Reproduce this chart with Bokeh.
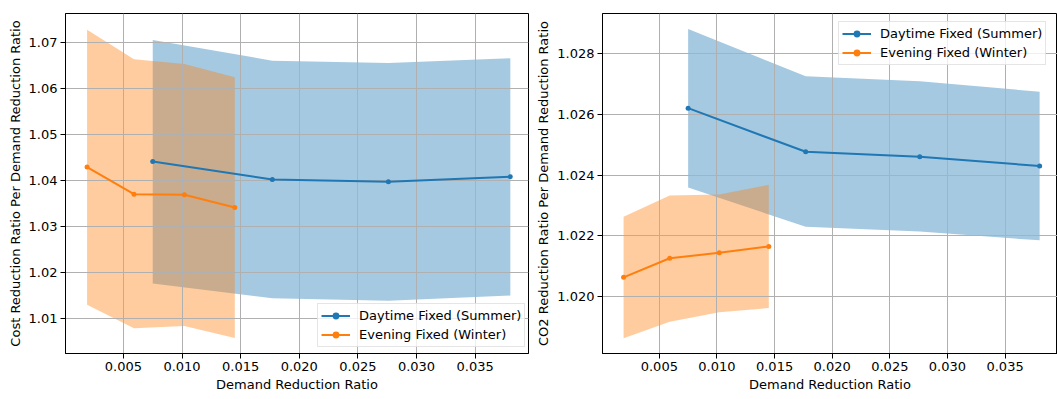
from bokeh.plotting import figure
from bokeh.layouts import row
from bokeh.models import Range1d, FixedTicker, PrintfTickFormatter, Legend, LegendItem
from bokeh.embed import file_html
from bokeh.resources import INLINE

# ---- data ----
series_names = ["Daytime Fixed (Summer)", "Evening Fixed (Winter)"]
day_x = [0.0075, 0.0177, 0.0276, 0.0380]
eve_x = [0.0019, 0.0059, 0.0102, 0.0145]

cost_day_mean = [1.0441, 1.0402, 1.0397, 1.0408]
cost_day_upper = [1.0705, 1.0660, 1.0655, 1.0665]
cost_day_lower = [1.0176, 1.0144, 1.0139, 1.0150]
cost_eve_mean = [1.0429, 1.0370, 1.0369, 1.0341]
cost_eve_upper = [1.0727, 1.0663, 1.0653, 1.0624]
cost_eve_lower = [1.0130, 1.0079, 1.0084, 1.0058]

co2_day_mean = [1.02621, 1.02477, 1.02461, 1.02430]
co2_day_upper = [1.02882, 1.02726, 1.02710, 1.02675]
co2_day_lower = [1.02359, 1.02230, 1.02214, 1.02185]
co2_eve_mean = [1.02063, 1.02126, 1.02144, 1.02165]
co2_eve_upper = [1.02263, 1.02333, 1.02336, 1.02368]
co2_eve_lower = [1.01862, 1.01917, 1.01948, 1.01962]

x_ticks = [0.005, 0.010, 0.015, 0.020, 0.025, 0.030, 0.035]
cost_y_ticks = [1.01, 1.02, 1.03, 1.04, 1.05, 1.06, 1.07]
co2_y_ticks = [1.020, 1.022, 1.024, 1.026, 1.028]

BLUE = "#1f77b4"
ORANGE = "#ff7f0e"
FONT = "DejaVu Sans"
FS = "13px"


def make_panel(width, borders, xr, yr, y_ticks, y_fmt, y_label,
               day, eve, legend_loc):
    bl, br, bt, bb = borders
    p = figure(width=width, height=399, x_range=Range1d(*xr), y_range=Range1d(*yr),
               output_backend="svg", toolbar_location=None,
               min_border_left=bl, min_border_right=br,
               min_border_top=bt, min_border_bottom=bb)
    p.outline_line_color = "black"
    p.outline_line_width = 1
    p.outline_line_alpha = 1

    for ax in (p.xaxis[0], p.yaxis[0]):
        ax.axis_line_color = "black"
        ax.major_tick_line_color = "black"
        ax.major_tick_out = 5
        ax.major_tick_in = 0
        ax.minor_tick_line_color = None
        ax.major_label_text_font = FONT
        ax.major_label_text_font_size = FS
        ax.major_label_text_color = "black"
        ax.axis_label_text_font = FONT
        ax.axis_label_text_font_size = FS
        ax.axis_label_text_font_style = "normal"
        ax.axis_label_text_color = "black"
        ax.major_label_standoff = 3
        ax.axis_label_standoff = 3

    p.xaxis.ticker = FixedTicker(ticks=x_ticks)
    p.xaxis.formatter = PrintfTickFormatter(format="%.3f")
    p.xaxis.axis_label = "Demand Reduction Ratio"
    p.yaxis.ticker = FixedTicker(ticks=y_ticks)
    p.yaxis.formatter = PrintfTickFormatter(format=y_fmt)
    p.yaxis.axis_label = y_label

    for g in (p.xgrid[0], p.ygrid[0]):
        g.grid_line_color = "#b0b0b0"
        g.grid_line_width = 1

    (dm, du, dl), (em, eu, el) = day, eve
    p.varea(x=day_x, y1=dl, y2=du, fill_color=BLUE, fill_alpha=0.4, level="image")
    p.varea(x=eve_x, y1=el, y2=eu, fill_color=ORANGE, fill_alpha=0.4, level="image")

    l1 = p.line(day_x, dm, line_color=BLUE, line_width=2)
    s1 = p.scatter(day_x, dm, size=5, fill_color=BLUE, line_color=None)
    l2 = p.line(eve_x, em, line_color=ORANGE, line_width=2)
    s2 = p.scatter(eve_x, em, size=5, fill_color=ORANGE, line_color=None)

    leg = Legend(items=[LegendItem(label=series_names[0], renderers=[l1, s1]),
                        LegendItem(label=series_names[1], renderers=[l2, s2])],
                 location=legend_loc)
    leg.label_text_font = FONT
    leg.label_text_font_size = FS
    leg.label_text_color = "black"
    leg.glyph_width = 29
    leg.glyph_height = 17
    leg.label_height = 17
    leg.label_standoff = 9
    leg.spacing = 2
    leg.padding = 3
    leg.margin = 0
    leg.border_line_color = "#cccccc"
    leg.border_line_width = 1
    leg.background_fill_alpha = 0.8
    p.add_layout(leg)
    return p


p1 = make_panel(530, (65, 2, 5, 46), (0.00006, 0.03955), (1.00242, 1.07624),
                cost_y_ticks, "%.2f", "Cost Reduction Ratio Per Demand Reduction Ratio",
                (cost_day_mean, cost_day_upper, cost_day_lower),
                (cost_eve_mean, cost_eve_upper, cost_eve_lower),
                (252, 6))
p2 = make_panel(527, (72, 0, 13, 44), (0.00007, 0.03955), (1.01812, 1.02933),
                co2_y_ticks, "%.3f", "CO2 Reduction Ratio Per Demand Reduction Ratio",
                (co2_day_mean, co2_day_upper, co2_day_lower),
                (co2_eve_mean, co2_eve_upper, co2_eve_lower),
                (236, 288))

layout = row(p1, p2)
open("out.html", "w").write(file_html(layout, INLINE))
